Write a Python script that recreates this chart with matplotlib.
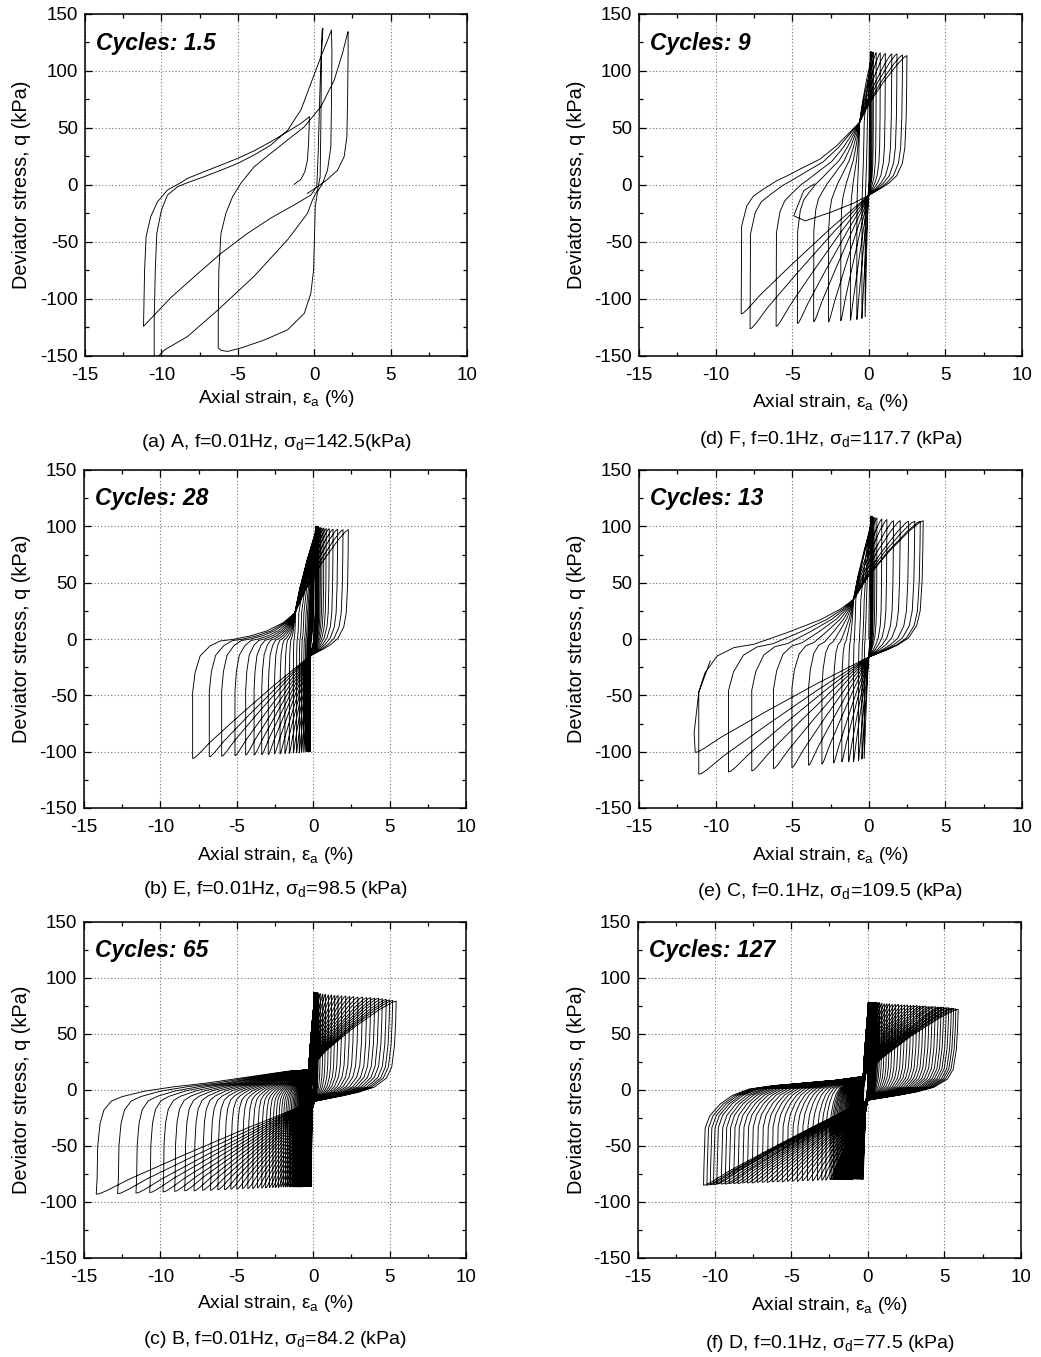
import matplotlib
matplotlib.use("Agg")
import matplotlib.pyplot as plt
from matplotlib.ticker import MultipleLocator

plt.rcParams['font.family'] = ['Liberation Sans', 'DejaVu Sans']
plt.rcParams['mathtext.fontset'] = 'custom'
plt.rcParams['mathtext.rm'] = 'Liberation Sans'
plt.rcParams['mathtext.it'] = 'Liberation Sans:italic'
plt.rcParams['axes.unicode_minus'] = False

# ---- panel (a): one path, read point by point ----
a_strain = [-1.31, -0.87, -0.61, -0.44, -0.37, -0.31,
            -0.87, -1.74, -2.84, -3.93, -5.0, -6.1, -7.2, -8.3, -8.7, -9.6, -10.25, -10.7, -11.0, -11.1, -11.17,
            -9.4, -7.6, -6.1, -4.36, -2.84, -1.31, -0.22, 0.17, 0.26, 0.35, 0.44, 0.52, 0.57,
            0.48, 0.44, 0.39, 0.22, -0.11, -0.44, -1.74, -3.93, -6.3, -8.3, -9.8, -10.4,
            -10.47, -10.47, -10.4, -10.3, -10.0, -9.6, -8.94, -8.3, -7.2, -6.1, -5.0, -3.93, -2.84, -1.74, -0.87, -0.22, 0.44, 0.87, 1.13,
            1.16, 1.13, 1.09, 0.87, 0.55, 0.22, 0.07, 0.02, -0.04, -0.22, -0.65, -1.74, -3.27, -4.8, -5.67, -6.1, -6.28,
            -6.28, -6.24, -6.1, -5.78, -5.34, -4.8, -3.93, -2.84, -1.74, -0.65, 0.44, 1.31, 1.85, 2.18, 2.22,
            2.22, 2.18, 2.14, 1.96, 1.53, 0.87, 0.22, -0.44]
a_stress = [0.6, 5, 11.7, 22, 36.5, 60,
            54, 46.8, 38, 30, 23.4, 17.5, 11.7, 5.8, 2.3, -4.4, -14.6, -27.8, -45, -74.6, -124,
            -99, -77.5, -60, -42.4, -29, -17.5, -8.8, -1.5, 27.8, 71.6, 110, 136, 137.4,
            115.5, 57, 7.3, -4.4, -13, -24.9, -48, -80, -109.6, -133, -144.7, -153,
            -149, -118, -74.6, -42.4, -22, -8.8, -1.5, 2, 7.3, 13, 19, 26.3, 35, 48, 65.8, 89, 112.6, 127, 136,
            115.5, 71.6, 33.6, 13, 1.5, -5.8, -19, -45, -74.6, -95, -112.6, -127, -136, -143, -146, -145, -143,
            -118, -74.6, -42.4, -24.9, -10.2, 1.5, 16, 27.8, 39.5, 51, 68.7, 92, 115.5, 133, 134.5,
            115.5, 71.6, 42.4, 24.9, 13, 5, -1.5, -7.3]

# ---- other panels: turning points per cycle, outermost loop first ----
# (b) E
b_lo = [-7.89, -6.8, -5.99, -5.12, -4.42, -3.87, -3.37, -2.94, -2.54, -2.17, -1.85, -1.56, -1.3, -1.09,
        -0.91, -0.76, -0.62, -0.52, -0.44, -0.38, -0.33, -0.29, -0.26, -0.24, -0.22, -0.2, -0.19, -0.18]
b_qmin = [-106, -104.5, -104, -103.5, -103, -103, -102.5, -102.5, -102, -102, -101.5, -101.5, -101, -101,
          -101, -100.5, -100.5, -100, -100, -100, -100, -100, -100, -100, -100, -100, -100, -100]
b_hi = [2.3, 1.95, 1.6, 1.3, 1.05, 0.85, 0.7, 0.58, 0.48, 0.4, 0.35, 0.32, 0.3, 0.28,
        0.27, 0.26, 0.25, 0.24, 0.23, 0.22, 0.21, 0.2, 0.2, 0.19, 0.18, 0.17, 0.16, 0.15]
b_qmax = [97, 97, 97.5, 97.5, 98, 98, 98.5, 98.5, 99, 99, 99.5, 99.5, 100, 100,
          100, 100, 100, 100, 100, 100, 100, 100, 100, 100, 100, 100, 100, 100]

# (c) B
c_lo = [-14.2, -12.8, -11.6, -10.7, -9.83, -9.07, -8.41, -7.8, -7.24, -6.72,
        -6.24, -5.8, -5.39, -5.0, -4.63, -4.28, -3.96, -3.65, -3.37, -3.11,
        -2.87, -2.65, -2.46, -2.28, -2.11, -1.96, -1.82, -1.7, -1.58, -1.47,
        -1.37, -1.28, -1.2, -1.12, -1.05, -0.98, -0.92, -0.86, -0.8, -0.75,
        -0.7, -0.66, -0.62, -0.58, -0.54, -0.5, -0.47, -0.44, -0.41, -0.38,
        -0.35, -0.32, -0.3, -0.28, -0.26, -0.24, -0.22, -0.2, -0.19, -0.18,
        -0.17, -0.16, -0.15, -0.14, -0.13]
c_qmin = [-93, -92.5, -92, -91.5, -91, -90.5, -90, -90, -89.5, -89.5,
          -89, -89, -88.5, -88.5, -88, -88, -88, -87.5, -87.5, -87.5,
          -87, -87, -87, -87, -86.5, -86.5, -86.5, -86.5, -86.5, -86.5,
          -86.5, -86.5, -86.5, -86.5, -86.5, -86.5, -86.5, -86.5, -86.5, -86.5,
          -86, -86, -86, -86, -86, -86, -86, -86, -86, -86,
          -86, -86, -86, -86, -86, -86, -86, -86, -86, -86,
          -86, -86, -86, -86, -86]
c_hi = [5.43, 5.2, 5.0, 4.78, 4.52, 4.28, 4.02, 3.76, 3.5, 3.22,
        2.93, 2.65, 2.39, 2.13, 1.87, 1.63, 1.41, 1.2, 1.0, 0.8,
        0.63, 0.46, 0.33, 0.3, 0.29, 0.28, 0.27, 0.26, 0.25, 0.24,
        0.23, 0.22, 0.21, 0.2, 0.2, 0.19, 0.19, 0.18, 0.18, 0.17,
        0.17, 0.16, 0.16, 0.15, 0.15, 0.14, 0.14, 0.13, 0.13, 0.12,
        0.12, 0.11, 0.11, 0.1, 0.1, 0.09, 0.09, 0.08, 0.08, 0.07,
        0.07, 0.06, 0.06, 0.05, 0.05]
c_qmax = [79.4, 80, 80.5, 81, 81.5, 82, 82, 82.5, 82.5, 83,
          83, 83.5, 83.5, 84, 84, 84.5, 84.5, 85, 85, 85.5,
          85.5, 86, 86, 86.5, 86.5, 86.5, 86.5, 86.5, 86.5, 86.5,
          86.5, 86.5, 86.5, 86.5, 86.5, 87, 87, 87, 87, 87,
          87, 87, 87, 87, 87, 87, 87, 87, 87, 87,
          87, 87, 87, 87, 87, 87, 87, 87, 87, 87,
          87, 87, 87, 87, 87]

# (d) F
d_lo = [-8.33, -7.75, -6.05, -4.66, -3.6, -2.63, -1.83, -1.2, -0.78, -0.45, -0.24]
d_qmin = [-113, -126, -124, -121.5, -120, -120, -119, -118.6, -118, -117, -115.6]
d_hi = [2.49, 2.2, 1.84, 1.5, 1.08, 0.75, 0.48, 0.3, 0.22, 0.15, 0.1]
d_qmax = [113.5, 114, 115, 115, 115.5, 116, 116, 116.5, 116.5, 117, 117]
d_head = [(-3.55, 1), (-4.25, -5), (-4.9, -27), (-4.15, -31.5), (-2.5, -24), (-1.0, -16), (0.0, -9)]

# (e) C
e_lo = [-11.33, -11.1, -9.16, -7.64, -6.22, -5.02, -3.93, -3.06, -2.3, -1.76, -1.32, -1.0, -0.67, -0.45, -0.3]
e_qmin = [-100.6, -120, -118, -117, -115, -114, -112, -111, -110, -109, -109, -109, -108, -106.5, -106]
e_hi = [3.55, 3.36, 3.0, 2.6, 2.05, 1.61, 1.18, 0.85, 0.53, 0.4, 0.3, 0.25, 0.2, 0.15, 0.12]
e_qmax = [105, 104.4, 104.5, 104.5, 105, 105, 106, 106.5, 107.5, 108, 108, 108.5, 109, 109, 109]
e_tail = [(-11.4, -83), (-11.1, -47.5), (-10.35, -19.5)]

# (f) D
f_lo = [-10.72, -10.5, -10.28, -10.07, -9.85, -9.56, -9.3, -9.04, -8.75, -8.47,
        -8.16, -7.86, -7.55, -7.22, -6.89, -6.56, -6.24, -5.91, -5.58, -5.25,
        -4.92, -4.6, -4.27, -3.94, -3.61, -3.28, -3.0, -2.74,
        -2.47, -2.35, -2.25, -2.16, -2.07, -1.98, -1.9, -1.82, -1.74, -1.66,
        -1.58, -1.51, -1.44, -1.37, -1.3, -1.24, -1.18, -1.12, -1.06, -1.0,
        -0.95, -0.9, -0.85, -0.8, -0.75, -0.71, -0.67, -0.63, -0.59, -0.55,
        -0.52, -0.49, -0.46, -0.43, -0.4, -0.38, -0.36, -0.34, -0.32, -0.3]
f_qmin = [-85, -85, -84.5, -84.5, -84, -84, -84, -83.5, -83.5, -83.5,
          -83, -83, -83, -82.5, -82.5, -82.5, -82, -82, -82, -81.5,
          -81.5, -81.5, -81, -81, -81, -80.5, -80.5, -80.5,
          -80, -80, -80, -80, -80, -80, -80, -80, -80, -80,
          -80, -80, -80, -80, -80, -80, -80, -80, -80, -80,
          -79.5, -79.5, -79.5, -79.5, -79.5, -79.5, -79.5, -79.5, -79.5, -79.5,
          -79.5, -79.5, -79.5, -79.5, -79.5, -79.5, -79.5, -79.5, -79.5, -79.5]
f_hi = [5.9, 5.75, 5.6, 5.45, 5.28, 5.12, 4.95, 4.78, 4.6, 4.4,
        4.2, 4.0, 3.8, 3.6, 3.4, 3.2, 3.0, 2.8, 2.6, 2.4,
        2.2, 2.0, 1.8, 1.6, 1.42, 1.25, 1.08, 0.92,
        0.78, 0.68, 0.6, 0.54, 0.5, 0.46, 0.42, 0.39, 0.36, 0.34,
        0.32, 0.3, 0.28, 0.26, 0.24, 0.22, 0.2, 0.19, 0.18, 0.17,
        0.16, 0.15, 0.14, 0.13, 0.12, 0.11, 0.1, 0.09, 0.08, 0.08,
        0.07, 0.07, 0.06, 0.06, 0.05, 0.05, 0.04, 0.04, 0.03, 0.03]
f_qmax = [72, 72.5, 73, 73, 73.5, 73.5, 74, 74, 74, 74.5,
          74.5, 74.5, 75, 75, 75, 75.5, 75.5, 75.5, 76, 76,
          76, 76.5, 76.5, 76.5, 77, 77, 77, 77.5,
          78, 78, 78, 78, 78, 78, 78, 78, 78, 78,
          78, 78, 78, 78, 78, 78, 78, 78, 78, 78,
          78, 78, 78, 78, 78, 78, 78, 78, 78, 78,
          78, 78, 78, 78, 78, 78, 78, 78, 78, 78]

b_rise = [(0, 0), (0, 0.1), (0, 0.453), (0.024, 0.591), (0.073, 0.705), (0.17, 0.774), (0.269, 0.808),
          (0.397, 0.819), (0.56, 0.842), (0.722, 0.876), (0.886, 0.934), (1, 1)]
c_rise = [(0, 0), (0.004, 0.117), (0.007, 0.387), (0.018, 0.568), (0.036, 0.676), (0.071, 0.748), (0.121, 0.784),
          (0.229, 0.829), (0.371, 0.865), (0.514, 0.892), (0.657, 0.928), (0.8, 0.964), (0.907, 0.99), (1, 1)]
d_rise = [(0, 0), (0.004, 0.458), (0.047, 0.563), (0.103, 0.615), (0.188, 0.651), (0.301, 0.695), (0.386, 0.72),
          (0.527, 0.765), (0.666, 0.808), (0.807, 0.878), (0.92, 0.949), (1, 1)]
e_rise = [(0, 0), (0, 0.12), (0, 0.471), (0.04, 0.58), (0.119, 0.677), (0.228, 0.725), (0.356, 0.744),
          (0.569, 0.81), (0.785, 0.884), (0.915, 0.945), (1, 1)]
f_rise = [(0, 0), (0.002, 0.158), (0.01, 0.526), (0.039, 0.639), (0.104, 0.747), (0.179, 0.825), (0.284, 0.885),
          (0.433, 0.916), (0.646, 0.943), (0.825, 0.966), (1, 1)]
up_diag = [(0, 0), (0.2, 0.28), (0.5, 0.6), (0.8, 0.87), (0.95, 0.98), (1, 1)]
dn_drop = [(0, 0), (0.006, 0.2), (0.02, 0.44), (0.055, 0.66), (0.12, 0.77), (0.27, 0.86), (0.46, 0.91),
           (0.65, 0.945), (0.85, 0.977), (1, 1)]
dn_diag = [(0, 0), (0.3, 0.28), (0.6, 0.58), (0.85, 0.84), (0.95, 0.96), (0.985, 0.995), (1, 1)]


def seg(p0, p1, shape):
    return [(p0[0] + u * (p1[0] - p0[0]), p0[1] + v * (p1[1] - p0[1])) for u, v in shape]


def corner_up(pl, ph, c_up):
    # keep the turning corner inside small loops
    return (max(c_up[0], pl[0] + min(0.6 * (ph[0] - pl[0]), 0.15)), c_up[1])


def corner_dn(ph, pl, c_dn):
    return (min(c_dn[0], ph[0] - min(0.6 * (ph[0] - pl[0]), 0.15)), c_dn[1])


def build(lo, qmin, hi, qmax, rise, c_up, c_dn, start, tail=None):
    lo, qmin, hi, qmax = lo[::-1], qmin[::-1], hi[::-1], qmax[::-1]  # time order
    pts = list(start)
    for k in range(len(lo)):
        ph = (hi[k], qmax[k])
        if k == 0:
            pts += seg(pts[-1], ph, up_diag)[1:]
        else:
            pl = (lo[k - 1], qmin[k - 1])
            cu = corner_up(pl, ph, c_up)
            pts += seg(pl, cu, rise)[1:] + seg(cu, ph, up_diag)[1:]
        pl = (lo[k], qmin[k])
        cd = corner_dn(ph, pl, c_dn)
        pts += seg(ph, cd, dn_drop)[1:] + seg(cd, pl, dn_diag)[1:]
    if tail is None:
        pl = (lo[-1], qmin[-1])
        pts += seg(pl, corner_up(pl, (hi[-1], qmax[-1]), c_up), rise)[1:]
    else:
        pts += tail
    return [p[0] for p in pts], [p[1] for p in pts]


panels = [
    # (rect px: left, top, right, bottom), cycles text, caption, xlabel y, caption y
    ((85, 14, 467, 356), 'Cycles: 1.5', r'(a) A, f=0.01Hz, $\mathrm{\sigma_d}$=142.5(kPa)', 398, 443,
     (a_strain, a_stress)),
    ((639, 14, 1022, 356), 'Cycles: 9', r'(d) F, f=0.1Hz, $\mathrm{\sigma_d}$=117.7 (kPa)', 402, 440,
     build(d_lo, d_qmin, d_hi, d_qmax, d_rise, (-0.6, 55), (0.0, -9), d_head)),
    ((84, 470, 466, 808), 'Cycles: 28', r'(b) E, f=0.01Hz, $\mathrm{\sigma_d}$=98.5 (kPa)', 855, 889,
     build(b_lo, b_qmin, b_hi, b_qmax, b_rise, (-1.2, 23), (-0.2, -15), [(0, 0)])),
    ((639, 470, 1022, 808), 'Cycles: 13', r'(e) C, f=0.1Hz, $\mathrm{\sigma_d}$=109.5 (kPa)', 855, 892,
     build(e_lo, e_qmin, e_hi, e_qmax, e_rise, (-1.0, 35), (0.0, -16), [(0, 0)], e_tail)),
    ((84, 922, 466, 1258), 'Cycles: 65', r'(c) B, f=0.01Hz, $\mathrm{\sigma_d}$=84.2 (kPa)', 1303, 1340,
     build(c_lo, c_qmin, c_hi, c_qmax, c_rise, (-0.3, 18), (0.1, -10), [(0, 0)])),
    ((638, 922, 1021, 1258), 'Cycles: 127', r'(f) D, f=0.1Hz, $\mathrm{\sigma_d}$=77.5 (kPa)', 1305, 1343,
     build(f_lo, f_qmin, f_hi, f_qmax, f_rise, (-0.3, 12), (0.0, -9), [(0, 0)])),
]

W, H = 1041, 1357
fig = plt.figure(figsize=(W / 100, H / 100), dpi=100)

for (l, t, r, b), cyc, cap, xly, capy, (xs, ys) in panels:
    ax = fig.add_axes([l / W, 1 - b / H, (r - l) / W, (b - t) / H])
    ax.plot(xs, ys, color='black', lw=0.65)
    ax.set_xlim(-15, 10)
    ax.set_ylim(-150, 150)
    ax.xaxis.set_major_locator(MultipleLocator(5))
    ax.xaxis.set_minor_locator(MultipleLocator(2.5))
    ax.yaxis.set_major_locator(MultipleLocator(50))
    ax.yaxis.set_minor_locator(MultipleLocator(25))
    ax.tick_params(which='both', direction='in', top=True, right=True, width=0.9)
    ax.tick_params(which='major', length=5, labelsize=13.5)
    ax.tick_params(which='minor', length=3)
    ax.tick_params(axis='x', pad=8)
    ax.tick_params(axis='y', pad=5)
    ax.grid(True, which='major', color='0.45', linestyle=(0, (1, 2)), lw=0.8)
    for s in ax.spines.values():
        s.set_linewidth(1.1)
    ax.text(0.03, 0.915, cyc, transform=ax.transAxes, fontsize=16.5,
            fontweight='bold', fontstyle='italic', va='center', ha='left')
    cx = (l + r) / 2
    ylx = 22 if l < 300 else 577
    fig.text(ylx / W, 1 - (t + b) / 2 / H, 'Deviator stress, q (kPa)', rotation=90,
             ha='center', va='center', fontsize=14.3)
    fig.text(cx / W, 1 - xly / H, r'Axial strain, $\mathrm{\varepsilon_a}$ (%)',
             ha='center', va='center', fontsize=13.8)
    fig.text(cx / W, 1 - capy / H, cap, ha='center', va='center', fontsize=14)

fig.savefig('out.png', dpi=100)
